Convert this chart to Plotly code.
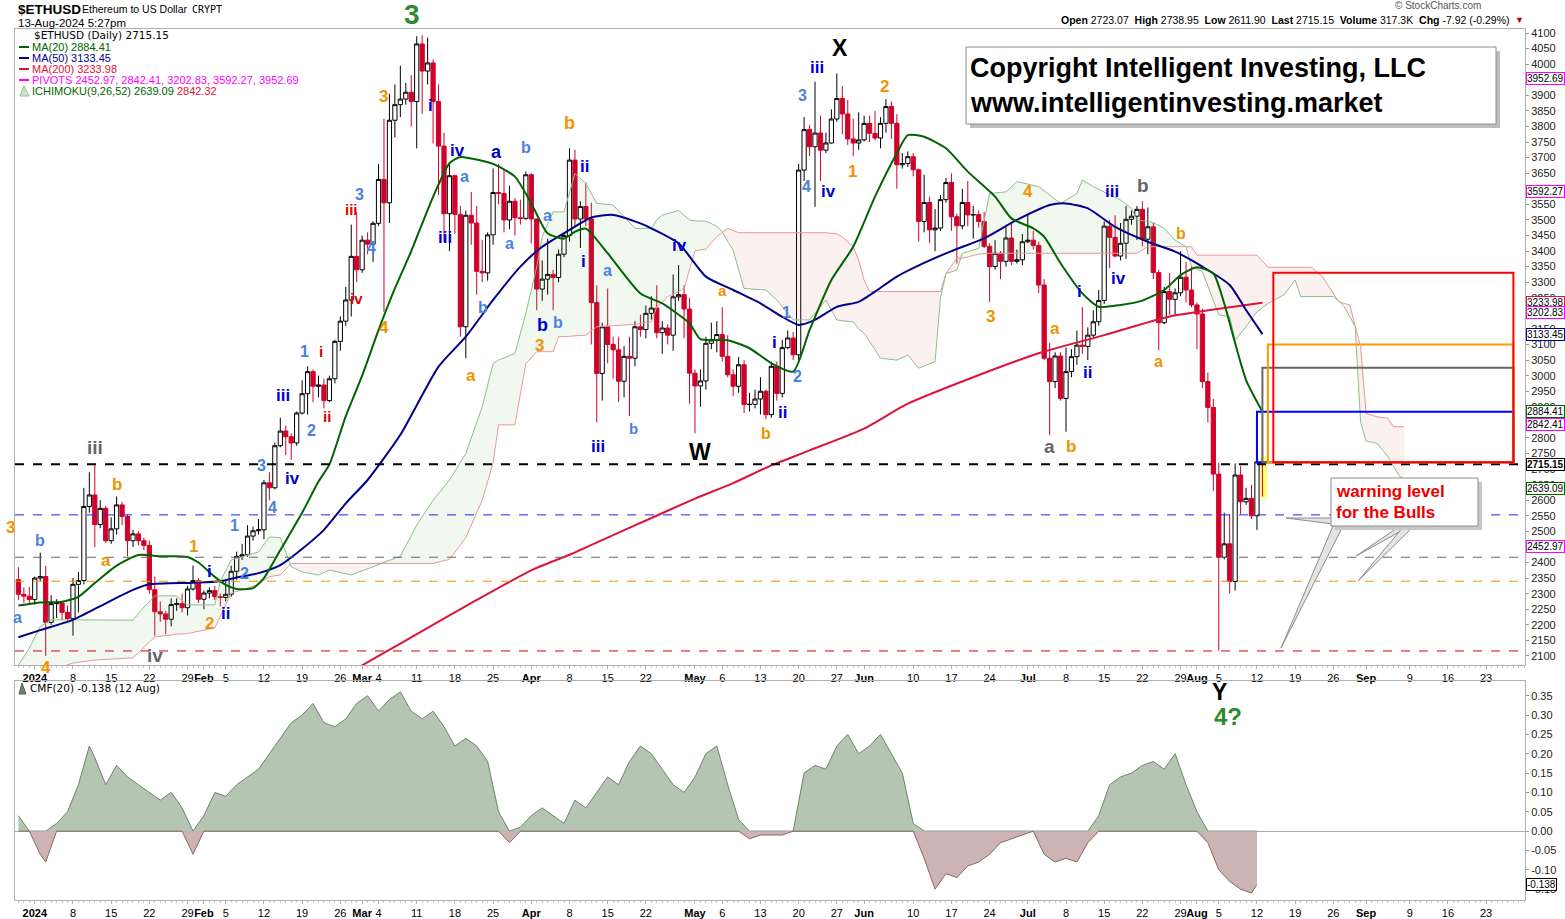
import numpy as np
import pandas as pd
import plotly.graph_objects as go

# ---------------- DATA ----------------
dates = pd.date_range("2023-12-29", "2024-08-13", freq="D")

o_dec = [2345, 2298, 2292]
h_dec = [2385, 2320, 2322]
l_dec = [2280, 2270, 2268]
c_dec = [2298, 2292, 2281]

o_jan = [2281, 2350, 2355, 2208, 2268, 2270, 2240, 2220, 2330, 2342, 2580, 2617, 2522, 2574, 2470, 2508, 2585, 2548, 2470, 2492, 2470, 2455, 2313, 2242, 2235, 2218, 2265, 2268, 2255, 2315, 2342]
h_jan = [2355, 2432, 2390, 2295, 2282, 2276, 2262, 2350, 2370, 2640, 2690, 2715, 2600, 2582, 2545, 2612, 2595, 2555, 2505, 2500, 2480, 2470, 2355, 2275, 2245, 2285, 2285, 2300, 2325, 2390, 2350]
l_jan = [2265, 2340, 2100, 2200, 2222, 2215, 2210, 2165, 2240, 2330, 2560, 2450, 2510, 2462, 2460, 2490, 2520, 2420, 2450, 2455, 2440, 2300, 2165, 2210, 2170, 2195, 2245, 2240, 2230, 2310, 2270]
c_jan = [2350, 2355, 2208, 2268, 2270, 2240, 2220, 2330, 2342, 2580, 2617, 2522, 2574, 2470, 2508, 2585, 2548, 2470, 2492, 2470, 2455, 2313, 2242, 2235, 2218, 2265, 2268, 2255, 2315, 2342, 2282]

o_feb = [2282, 2302, 2310, 2290, 2288, 2298, 2372, 2420, 2425, 2485, 2502, 2505, 2656, 2640, 2775, 2822, 2804, 2784, 2880, 2942, 3013, 2966, 2970, 2920, 2990, 3110, 3175, 3243, 3383]
h_feb = [2310, 2320, 2325, 2300, 2340, 2390, 2435, 2460, 2520, 2515, 2540, 2665, 2690, 2785, 2865, 2840, 2815, 2885, 2985, 3030, 3020, 3000, 2990, 3000, 3115, 3190, 3285, 3485, 3525]
l_feb = [2250, 2285, 2280, 2260, 2275, 2290, 2345, 2408, 2418, 2470, 2490, 2475, 2600, 2635, 2770, 2745, 2730, 2775, 2875, 2875, 2915, 2930, 2895, 2915, 2975, 3080, 3160, 3190, 3300]
c_feb = [2302, 2310, 2290, 2288, 2298, 2372, 2420, 2425, 2485, 2502, 2505, 2656, 2640, 2775, 2822, 2804, 2784, 2880, 2942, 3013, 2966, 2970, 2920, 2990, 3110, 3175, 3243, 3383, 3340]

o_mar = [3340, 3435, 3422, 3489, 3630, 3555, 3820, 3870, 3888, 3910, 3880, 4065, 3978, 4004, 3880, 3737, 3520, 3642, 3518, 3157, 3515, 3490, 3335, 3330, 3452, 3588, 3585, 3500, 3560, 3507, 3505]
h_mar = [3450, 3460, 3495, 3680, 3825, 3905, 3935, 3995, 3940, 3965, 4090, 4093, 4085, 4015, 3935, 3780, 3680, 3645, 3545, 3530, 3590, 3545, 3435, 3460, 3665, 3680, 3660, 3610, 3570, 3565, 3655]
l_mar = [3330, 3390, 3365, 3480, 3205, 3490, 3765, 3830, 3870, 3800, 3730, 3840, 3935, 3745, 3580, 3430, 3400, 3455, 3125, 3056, 3420, 3260, 3300, 3305, 3420, 3550, 3460, 3470, 3450, 3485, 3500]
c_mar = [3435, 3422, 3489, 3630, 3555, 3820, 3870, 3888, 3910, 3880, 4065, 3978, 4004, 3880, 3737, 3520, 3642, 3518, 3157, 3515, 3490, 3335, 3330, 3452, 3588, 3585, 3500, 3560, 3507, 3505, 3645]

o_apr = [3645, 3503, 3278, 3310, 3325, 3315, 3390, 3450, 3692, 3503, 3543, 3503, 3235, 3007, 3157, 3100, 3083, 2982, 3062, 3056, 3157, 3148, 3200, 3217, 3138, 3153, 3130, 3253, 3260, 3214]
h_apr = [3650, 3505, 3370, 3440, 3340, 3405, 3460, 3730, 3725, 3560, 3620, 3555, 3290, 3170, 3280, 3125, 3125, 3095, 3125, 3175, 3195, 3225, 3255, 3290, 3175, 3165, 3325, 3355, 3290, 3250]
l_apr = [3425, 3210, 3240, 3260, 3210, 3300, 3380, 3430, 3480, 3410, 3480, 3100, 2850, 2920, 3040, 2990, 2915, 2930, 2870, 3030, 3125, 3120, 3180, 3120, 3070, 3100, 3080, 3240, 3120, 2910]
c_apr = [3503, 3278, 3310, 3325, 3315, 3390, 3450, 3692, 3503, 3543, 3503, 3235, 3007, 3157, 3100, 3083, 2982, 3062, 3056, 3157, 3148, 3200, 3217, 3138, 3153, 3130, 3253, 3260, 3214, 3008]

o_may = [3008, 2967, 2983, 3104, 3115, 3132, 3062, 3003, 2966, 3035, 2907, 2908, 2925, 2950, 2875, 3030, 2943, 3090, 3121, 3067, 3660, 3790, 3735, 3779, 3724, 3747, 3824, 3890, 3840, 3760, 3747]
h_may = [3020, 3020, 3125, 3170, 3175, 3220, 3130, 3020, 3060, 3050, 2945, 2955, 2995, 2955, 3045, 3045, 3115, 3145, 3140, 3680, 3830, 3805, 3944, 3835, 3780, 3855, 3970, 3930, 3885, 3825, 3845]
l_may = [2815, 2900, 2955, 3085, 3075, 3045, 2995, 2935, 2945, 2880, 2885, 2895, 2875, 2860, 2865, 2920, 2930, 3085, 3050, 3050, 3625, 3705, 3542, 3625, 3715, 3745, 3815, 3775, 3740, 3705, 3725]
c_may = [2967, 2983, 3104, 3115, 3132, 3062, 3003, 2966, 3035, 2907, 2908, 2925, 2950, 2875, 3030, 2943, 3090, 3121, 3067, 3660, 3790, 3735, 3779, 3724, 3747, 3824, 3890, 3840, 3760, 3747, 3757]

o_jun = [3757, 3810, 3778, 3763, 3810, 3864, 3810, 3677, 3681, 3703, 3661, 3495, 3556, 3468, 3474, 3565, 3620, 3510, 3481, 3556, 3516, 3517, 3495, 3415, 3350, 3393, 3367, 3442, 3367, 3372]
h_jun = [3835, 3835, 3850, 3830, 3888, 3880, 3840, 3715, 3720, 3715, 3665, 3645, 3575, 3535, 3580, 3635, 3650, 3520, 3600, 3625, 3545, 3530, 3525, 3425, 3435, 3400, 3480, 3490, 3405, 3455]
l_jun = [3752, 3750, 3755, 3730, 3780, 3760, 3600, 3665, 3670, 3640, 3430, 3460, 3425, 3400, 3465, 3555, 3465, 3360, 3470, 3480, 3440, 3475, 3410, 3237, 3340, 3310, 3350, 3355, 3360, 3355]
c_jun = [3810, 3778, 3763, 3810, 3864, 3810, 3677, 3681, 3703, 3661, 3495, 3556, 3468, 3474, 3565, 3620, 3510, 3481, 3556, 3516, 3517, 3495, 3415, 3350, 3393, 3367, 3442, 3367, 3372, 3430]

o_jul = [3430, 3435, 3418, 3291, 3056, 2981, 3063, 2927, 3013, 3061, 3098, 3094, 3130, 3173, 3241, 3480, 3444, 3384, 3425, 3502, 3512, 3534, 3438, 3478, 3331, 3170, 3270, 3245, 3266, 3316, 3275]
h_jul = [3520, 3465, 3430, 3310, 3105, 3075, 3075, 3090, 3085, 3145, 3220, 3155, 3210, 3275, 3495, 3500, 3515, 3490, 3545, 3530, 3545, 3560, 3540, 3490, 3340, 3285, 3330, 3280, 3400, 3365, 3350]
l_jul = [3425, 3405, 3265, 3050, 2809, 2960, 2920, 2820, 2995, 3035, 3070, 3050, 3120, 3160, 3230, 3345, 3380, 3370, 3375, 3485, 3435, 3415, 3390, 3310, 3082, 3165, 3195, 3195, 3255, 3235, 3220]
c_jul = [3435, 3418, 3291, 3056, 2981, 3063, 2927, 3013, 3061, 3098, 3094, 3130, 3173, 3241, 3480, 3444, 3384, 3425, 3502, 3512, 3534, 3438, 3478, 3331, 3170, 3270, 3245, 3266, 3316, 3275, 3227]

o_aug = [3227, 3198, 2981, 2898, 2684, 2417, 2460, 2339, 2681, 2595, 2606, 2550, 2723.07]
h_aug = [3235, 3215, 3010, 2925, 2720, 2560, 2555, 2718, 2710, 2640, 2650, 2740, 2738.95]
l_aug = [3085, 2960, 2850, 2630, 2117, 2410, 2301, 2310, 2555, 2585, 2540, 2505, 2611.90]
c_aug = [3198, 2981, 2898, 2684, 2417, 2460, 2339, 2681, 2595, 2606, 2550, 2723.07, 2715.15]

opens = o_dec + o_jan + o_feb + o_mar + o_apr + o_may + o_jun + o_jul + o_aug
highs = h_dec + h_jan + h_feb + h_mar + h_apr + h_may + h_jun + h_jul + h_aug
lows = l_dec + l_jan + l_feb + l_mar + l_apr + l_may + l_jun + l_jul + l_aug
closes = c_dec + c_jan + c_feb + c_mar + c_apr + c_may + c_jun + c_jul + c_aug

# moving averages
ma20_dates = ["2023-12-29", "2024-01-02", "2024-01-06", "2024-01-09", "2024-01-12", "2024-01-16", "2024-01-20", "2024-01-24",
              "2024-01-29", "2024-01-31", "2024-02-03", "2024-02-05", "2024-02-07", "2024-02-10", "2024-02-12", "2024-02-15",
              "2024-02-19", "2024-02-22", "2024-02-24", "2024-02-27", "2024-03-01", "2024-03-04", "2024-03-07", "2024-03-10",
              "2024-03-14", "2024-03-17", "2024-03-19", "2024-03-21", "2024-03-25", "2024-03-29", "2024-04-01", "2024-04-04",
              "2024-04-07", "2024-04-09", "2024-04-11", "2024-04-15", "2024-04-21", "2024-04-25", "2024-04-30", "2024-05-02",
              "2024-05-07", "2024-05-11", "2024-05-15", "2024-05-19", "2024-05-22", "2024-05-26", "2024-05-30", "2024-06-03",
              "2024-06-07", "2024-06-09", "2024-06-12", "2024-06-16", "2024-06-20", "2024-06-25", "2024-06-28", "2024-07-02",
              "2024-07-04", "2024-07-07", "2024-07-11", "2024-07-14", "2024-07-18", "2024-07-22", "2024-07-26", "2024-07-29",
              "2024-08-01", "2024-08-04", "2024-08-06", "2024-08-08", "2024-08-10", "2024-08-13"]
ma20_vals = [2262, 2272, 2274, 2290, 2334, 2390, 2424, 2420,
             2418, 2400, 2354, 2328, 2315, 2318, 2350, 2440,
             2560, 2660, 2715, 2870, 3000, 3146, 3280, 3400,
             3574, 3682, 3702, 3697, 3680, 3639, 3553, 3457,
             3440, 3462, 3472, 3393, 3264, 3232, 3168, 3117,
             3114, 3088, 3040, 3013, 3146, 3307, 3414, 3575,
             3714, 3772, 3767, 3730, 3655, 3575, 3505, 3473,
             3446, 3361, 3264, 3221, 3227, 3241, 3275, 3323,
             3348, 3328, 3232, 3104, 2986, 2884.41]

ma50_dates = ["2023-12-29", "2024-01-02", "2024-01-08", "2024-01-14", "2024-01-19", "2024-01-22", "2024-01-30", "2024-02-04",
              "2024-02-07", "2024-02-11", "2024-02-15", "2024-02-18", "2024-02-23", "2024-02-27", "2024-03-02", "2024-03-08",
              "2024-03-15", "2024-03-20", "2024-03-25", "2024-03-30", "2024-04-03", "2024-04-08", "2024-04-12", "2024-04-16",
              "2024-04-21", "2024-04-23", "2024-04-28", "2024-05-03", "2024-05-08", "2024-05-13", "2024-05-17", "2024-05-20",
              "2024-05-23", "2024-05-27", "2024-05-31", "2024-06-03", "2024-06-07", "2024-06-12", "2024-06-17", "2024-06-23",
              "2024-06-29", "2024-07-05", "2024-07-08", "2024-07-12", "2024-07-17", "2024-07-23", "2024-07-28", "2024-08-02",
              "2024-08-07", "2024-08-10", "2024-08-13"]
ma50_vals = [2160, 2183, 2216, 2269, 2312, 2330, 2335, 2340,
             2352, 2366, 2392, 2430, 2505, 2590, 2665, 2810,
             3029, 3125, 3243, 3350, 3414, 3468, 3508, 3516,
             3489, 3473, 3425, 3318, 3275, 3232, 3189, 3163,
             3179, 3221, 3237, 3270, 3318, 3362, 3400, 3441,
             3500, 3548, 3553, 3537, 3478, 3430, 3398, 3350,
             3291, 3211, 3133.45]

ma200_dates = ["2024-02-27", "2024-03-01", "2024-03-08", "2024-03-15", "2024-03-22", "2024-04-01", "2024-04-08", "2024-04-15",
               "2024-04-22", "2024-05-01", "2024-05-08", "2024-05-15", "2024-05-22", "2024-06-01", "2024-06-09", "2024-06-21",
               "2024-07-03", "2024-07-15", "2024-07-27", "2024-08-08", "2024-08-13"]
ma200_vals = [2040, 2070, 2140, 2210, 2280, 2375, 2425, 2480,
              2535, 2605, 2655, 2712, 2760, 2830, 2910, 2995,
              3072, 3130, 3190, 3222, 3233.98]

# Ichimoku cloud (span A / span B, projected 26 days ahead)
cloud_dates = ["2023-12-29", "2023-12-31", "2024-01-02", "2024-01-04", "2024-01-08", "2024-01-12", "2024-01-19", "2024-01-21",
               "2024-01-23", "2024-01-27", "2024-01-29", "2024-02-03", "2024-02-04", "2024-02-06", "2024-02-08", "2024-02-11",
               "2024-02-13", "2024-02-15", "2024-02-17", "2024-02-19", "2024-02-22", "2024-02-24", "2024-02-28", "2024-03-03",
               "2024-03-08", "2024-03-11", "2024-03-14", "2024-03-17", "2024-03-20", "2024-03-23", "2024-03-25", "2024-03-26",
               "2024-03-29", "2024-03-31", "2024-04-02", "2024-04-03", "2024-04-05", "2024-04-06", "2024-04-07", "2024-04-09",
               "2024-04-11", "2024-04-13", "2024-04-16", "2024-04-20", "2024-04-23", "2024-04-24", "2024-04-25", "2024-04-26",
               "2024-04-28", "2024-04-29", "2024-04-30", "2024-05-01", "2024-05-03", "2024-05-05", "2024-05-06", "2024-05-07",
               "2024-05-08", "2024-05-09", "2024-05-10", "2024-05-14", "2024-05-16", "2024-05-19", "2024-05-22", "2024-05-25",
               "2024-05-27", "2024-05-28", "2024-05-30", "2024-05-31", "2024-06-01", "2024-06-02", "2024-06-04", "2024-06-07",
               "2024-06-09", "2024-06-11", "2024-06-14", "2024-06-15", "2024-06-16", "2024-06-18", "2024-06-19", "2024-06-22",
               "2024-06-24", "2024-06-27", "2024-06-29", "2024-07-03", "2024-07-05", "2024-07-07", "2024-07-10", "2024-07-11",
               "2024-07-13", "2024-07-15", "2024-07-18", "2024-07-20", "2024-07-21", "2024-07-23", "2024-07-24", "2024-07-26",
               "2024-07-28", "2024-07-30", "2024-07-31", "2024-08-01", "2024-08-02", "2024-08-05", "2024-08-07", "2024-08-08",
               "2024-08-10", "2024-08-12", "2024-08-14", "2024-08-17", "2024-08-19", "2024-08-20", "2024-08-22", "2024-08-24",
               "2024-08-26", "2024-08-27", "2024-08-28", "2024-08-29", "2024-08-30", "2024-08-31", "2024-09-01", "2024-09-03",
               "2024-09-05", "2024-09-06", "2024-09-07", "2024-09-08"]
span_a = [2071, 2125, 2195, 2216, 2216, 2216, 2215, 2257,
          2293, 2293, 2264, 2264, 2340, 2408, 2418, 2434,
          2482, 2480, 2386, 2370, 2360, 2376, 2360, 2386,
          2420, 2520, 2600, 2665, 2750, 2900, 3039, 3050,
          3071, 3200, 3350, 3446, 3526, 3526, 3526, 3649,
          3617, 3553, 3548, 3473, 3473, 3500, 3516, 3520,
          3530, 3515, 3500, 3497, 3496, 3480, 3462, 3430,
          3403, 3340, 3280, 3275, 3243, 3179, 3179, 3243,
          3179, 3176, 3173, 3150, 3136, 3110, 3056, 3050,
          3066, 3024, 3045, 3250, 3328, 3339, 3393, 3409,
          3585, 3590, 3623, 3607, 3580, 3553, 3585, 3628,
          3607, 3590, 3564, 3537, 3500, 3495, 3491, 3473,
          3435, 3414, 3350, 3342, 3334, 3195, 3189, 3114,
          3157, 3205, 3232, 3260, 3307, 3254, 3254, 3254,
          3254, 3240, 3221, 3190, 3157, 2850, 2790, 2783,
          2740, 2710, 2680, 2665]
span_b = [2040, 2045, 2050, 2055, 2077, 2087, 2094, 2129,
          2161, 2170, 2172, 2190, 2226, 2302, 2312, 2330,
          2355, 2360, 2397, 2397, 2397, 2397, 2397, 2397,
          2397, 2397, 2397, 2410, 2480, 2600, 2720, 2842,
          2842, 3039, 3077, 3077, 3077, 3125, 3125, 3128,
          3130, 3157, 3160, 3165, 3173, 3221, 3235, 3254,
          3270, 3280, 3340, 3401, 3406, 3446, 3460, 3473,
          3466, 3459, 3459, 3459, 3459, 3459, 3459, 3459,
          3455, 3446, 3414, 3371, 3307, 3270, 3270, 3270,
          3270, 3270, 3270, 3270, 3328, 3377, 3377, 3390,
          3393, 3393, 3393, 3393, 3393, 3393, 3393, 3393,
          3393, 3393, 3393, 3393, 3393, 3414, 3414, 3414,
          3414, 3414, 3414, 3387, 3387, 3387, 3387, 3387,
          3387, 3387, 3348, 3348, 3348, 3348, 3348, 3318,
          3264, 3237, 3232, 3227, 3160, 3093, 2879, 2868,
          2863, 2836, 2836, 2836]

# Chaikin Money Flow (20)
cmf_dates = ["2023-12-29", "2023-12-31", "2024-01-02", "2024-01-03", "2024-01-05", "2024-01-07", "2024-01-09", "2024-01-11",
             "2024-01-12", "2024-01-14", "2024-01-16", "2024-01-18", "2024-01-20", "2024-01-22", "2024-01-24", "2024-01-26",
             "2024-01-28", "2024-01-30", "2024-02-01", "2024-02-03", "2024-02-05", "2024-02-07", "2024-02-09", "2024-02-11",
             "2024-02-13", "2024-02-15", "2024-02-17", "2024-02-19", "2024-02-21", "2024-02-23", "2024-02-25", "2024-02-27",
             "2024-02-29", "2024-03-02", "2024-03-04", "2024-03-06", "2024-03-08", "2024-03-10", "2024-03-12", "2024-03-14",
             "2024-03-16", "2024-03-18", "2024-03-20", "2024-03-22", "2024-03-24", "2024-03-26", "2024-03-28", "2024-03-30",
             "2024-04-01", "2024-04-03", "2024-04-05", "2024-04-07", "2024-04-09", "2024-04-11", "2024-04-13", "2024-04-15",
             "2024-04-17", "2024-04-19", "2024-04-21", "2024-04-23", "2024-04-25", "2024-04-27", "2024-04-29", "2024-05-01",
             "2024-05-03", "2024-05-05", "2024-05-07", "2024-05-09", "2024-05-11", "2024-05-13", "2024-05-15", "2024-05-17",
             "2024-05-19", "2024-05-21", "2024-05-23", "2024-05-25", "2024-05-27", "2024-05-29", "2024-05-31", "2024-06-02",
             "2024-06-04", "2024-06-06", "2024-06-08", "2024-06-10", "2024-06-12", "2024-06-14", "2024-06-16", "2024-06-18",
             "2024-06-20", "2024-06-22", "2024-06-24", "2024-06-26", "2024-06-28", "2024-06-30", "2024-07-02", "2024-07-04",
             "2024-07-06", "2024-07-08", "2024-07-10", "2024-07-12", "2024-07-14", "2024-07-16", "2024-07-18", "2024-07-20",
             "2024-07-22", "2024-07-24", "2024-07-26", "2024-07-28", "2024-07-30", "2024-08-01", "2024-08-03", "2024-08-05",
             "2024-08-07", "2024-08-09", "2024-08-11", "2024-08-12"]
cmf_vals = [0.04, 0.00, -0.06, -0.08, 0.02, 0.05, 0.12, 0.22,
            0.19, 0.12, 0.17, 0.14, 0.12, 0.10, 0.08, 0.10,
            0.06, -0.06, 0.04, 0.10, 0.09, 0.12, 0.14, 0.16,
            0.20, 0.24, 0.28, 0.30, 0.33, 0.28, 0.27, 0.29,
            0.33, 0.35, 0.31, 0.34, 0.36, 0.31, 0.29, 0.31,
            0.27, 0.22, 0.24, 0.22, 0.18, 0.05, -0.03, 0.01,
            0.04, 0.06, 0.04, 0.02, 0.08, 0.06, 0.10, 0.14,
            0.12, 0.18, 0.22, 0.20, 0.16, 0.12, 0.10, 0.14,
            0.20, 0.22, 0.12, 0.03, -0.02, -0.01, -0.01, -0.01,
            0.00, 0.15, 0.17, 0.16, 0.22, 0.25, 0.20, 0.22,
            0.25, 0.20, 0.15, 0.02, -0.07, -0.15, -0.11, -0.12,
            -0.09, -0.08, -0.06, -0.03, -0.02, -0.01, 0.00, -0.06,
            -0.08, -0.07, -0.08, -0.03, 0.04, 0.12, 0.14, 0.15,
            0.17, 0.18, 0.16, 0.20, 0.12, 0.05, -0.03, -0.10,
            -0.13, -0.15, -0.16, -0.138]

# horizontal levels and target boxes
level_black = 2715.15
levels_dashed = [(2553, "#1f1fff"), (2417, "#666666"), (2340, "#f39200"), (2116, "#e00000")]
box_left = ["2024-08-12", "2024-08-13", "2024-08-14", "2024-08-15"]
box_top = [2884.41, 3025, 3100, 3330]
box_colors = ["#0000ff", "#666666", "#ff9900", "#ff0000"]
box_right = "2024-09-28"
box_bottom = 2722

axis_labels = [(3952.69, "#ff00ff"), (3592.27, "#ff00ff"), (3233.98, "#dc143c"), (3202.83, "#ff00ff"),
               (3133.45, "#000080"), (2884.41, "#006400"), (2842.41, "#ff00ff"), (2715.15, "#000000"),
               (2639.09, "#006400"), (2452.97, "#ff00ff")]

OR, LB, BL, RD, GY, BK, GR = "#f39200", "#4a80e0", "#0000d0", "#e00000", "#666666", "#000000", "#2e8b2e"
wave_labels = [
    ("b", "2024-01-02", 2472, LB, 16), ("a", "2023-12-28 18:00", 2225, LB, 16),
    ("iii", "2024-01-12", 2768, GY, 19), ("b", "2024-01-16", 2649, OR, 17),
    ("a", "2024-01-14", 2408, OR, 17), ("iv", "2024-01-23", 2103, GY, 19), ("1", "2024-01-30", 2450, OR, 17),
    ("i", "2024-02-02", 2370, BL, 17), ("2", "2024-02-02", 2203, OR, 17), ("ii", "2024-02-05", 2235, BL, 17),
    ("2", "2024-02-08 12:00", 2366, LB, 16), ("1", "2024-02-06 16:00", 2520, LB, 16), ("3", "2024-02-11 14:00", 2713, LB, 16),
    ("4", "2024-02-13 12:00", 2578, LB, 16), ("iv", "2024-02-17 07:00", 2671, BL, 17), ("iii", "2024-02-15 12:00", 2935, BL, 17),
    ("2", "2024-02-20 19:00", 2825, LB, 16), ("1", "2024-02-19 12:00", 3076, LB, 16), ("i", "2024-02-22 12:00", 3076, RD, 15),
    ("ii", "2024-02-23 14:00", 2870, RD, 15), ("iii", "2024-02-28 02:00", 3535, RD, 15), ("iv", "2024-02-28 22:00", 3249, RD, 15),
    ("3", "2024-02-29 14:00", 3583, LB, 16), ("4", "2024-03-02 19:00", 3413, LB, 16), ("4", "2024-03-05", 3156, OR, 17),
    ("3", "2024-03-05", 3895, OR, 17), ("ii", "2024-03-14", 4126, BL, 17),
    ("i", "2024-03-13 14:00", 3869, BL, 17), ("iv", "2024-03-18 10:00", 3724, BL, 17), ("iii", "2024-03-16 05:00", 3445, BL, 17),
    ("a", "2024-03-19 19:00", 3638, LB, 16), ("a", "2024-03-21", 2999, OR, 17), ("b", "2024-03-23 02:00", 3220, LB, 16),
    ("a", "2024-03-25 17:00", 3718, BL, 18), ("b", "2024-03-31", 3731, LB, 16), ("a", "2024-03-27 22:00", 3423, LB, 16),
    ("a", "2024-04-03 22:00", 3513, LB, 16), ("b", "2024-04-08 02:00", 3811, OR, 18), ("ii", "2024-04-10 19:00", 3673, BL, 17),
    ("i", "2024-04-10 12:00", 3368, BL, 17), ("a", "2024-04-14 22:00", 3339, LB, 16), ("3", "2024-04-02 14:00", 3098, OR, 17),
    ("b", "2024-04-03", 3163, BL, 18), ("b", "2024-04-05 22:00", 3172, LB, 16), ("iii", "2024-04-13 05:00", 2774, BL, 17),
    ("b", "2024-04-19 19:00", 2829, LB, 15), ("iv", "2024-04-28 05:00", 3419, BL, 17), ("a", "2024-05-06", 3275, OR, 15),
    ("W", "2024-05-02", 2755, BK, 23), ("b", "2024-05-14", 2813, OR, 16), ("ii", "2024-05-17", 2883, BL, 17),
    ("i", "2024-05-15 12:00", 3105, BL, 17), ("1", "2024-05-17 17:00", 3204, LB, 16), ("2", "2024-05-19 17:00", 2996, LB, 16),
    ("3", "2024-05-20 19:00", 3898, LB, 16), ("iii", "2024-05-23 10:00", 3991, BL, 17), ("X", "2024-05-27 14:00", 4052, BK, 23),
    ("4", "2024-05-21 10:00", 3606, LB, 16), ("iv", "2024-05-25 10:00", 3590, BL, 17), ("2", "2024-06-04 19:00", 3927, OR, 17),
    ("1", "2024-05-29 19:00", 3657, OR, 17), ("4", "2024-07-01", 3590, OR, 17), ("3", "2024-06-24 02:00", 3191, OR, 17),
    ("a", "2024-07-06", 3153, OR, 17), ("iii", "2024-07-16 10:00", 3590, BL, 17), ("b", "2024-07-22 02:00", 3609, GY, 19),
    ("iv", "2024-07-17 14:00", 3313, BL, 17), ("i", "2024-07-10 10:00", 3269, BL, 17), ("ii", "2024-07-12", 3009, BL, 17),
    ("a", "2024-07-05", 2771, GY, 19), ("b", "2024-07-08 22:00", 2771, OR, 17), ("b", "2024-07-29", 3455, OR, 16),
    ("a", "2024-07-25", 3044, OR, 16),
]
# labels that sit outside the price range (date, pixel row in the figure)
edge_labels = [("3", "2024-03-10 02:00", 14, GR, 28), ("4", "2024-01-03", 667, OR, 17),
               ("Y", "2024-08-05 05:00", 692, BK, 23), ("4?", "2024-08-06 17:00", 716, GR, 24)]

# ---------------- GEOMETRY HELPERS ----------------
W, H = 1565, 919
L_M, R_M, T_M, B_M = 15, 40, 29, 19
PLOT_W = W - L_M - R_M
PLOT_H = H - T_M - B_M


def px(xp):
    return (xp - L_M) / PLOT_W


def py(yp):
    return (H - B_M - yp) / PLOT_H


MAIN_BOTTOM, CMF_TOP = 665, 681
FONT = "Liberation Sans, Arial, sans-serif"

fig = go.Figure()

# Ichimoku cloud
sa = np.array(span_a, dtype=float)
sb = np.array(span_b, dtype=float)
top = np.maximum(sa, sb)
fig.add_trace(go.Scatter(x=cloud_dates, y=sb, mode="lines", line=dict(color="#e99a9a", width=1), hoverinfo="skip"))
fig.add_trace(go.Scatter(x=cloud_dates, y=top, mode="lines", line=dict(width=0), fill="tonexty",
                         fillcolor="rgba(60,160,60,0.08)", hoverinfo="skip"))
fig.add_trace(go.Scatter(x=cloud_dates, y=sa, mode="lines", line=dict(color="#8cbf8c", width=1), hoverinfo="skip"))
fig.add_trace(go.Scatter(x=cloud_dates, y=top, mode="lines", line=dict(width=0), fill="tonexty",
                         fillcolor="rgba(200,80,80,0.08)", hoverinfo="skip"))

# Moving averages
fig.add_trace(go.Scatter(x=ma200_dates, y=ma200_vals, mode="lines", line=dict(color="#dc143c", width=2, shape="spline", smoothing=0.6)))
fig.add_trace(go.Scatter(x=ma50_dates, y=ma50_vals, mode="lines", line=dict(color="#00008b", width=2, shape="spline", smoothing=0.6)))
fig.add_trace(go.Scatter(x=ma20_dates, y=ma20_vals, mode="lines", line=dict(color="#006400", width=2, shape="spline", smoothing=0.6)))

# Candles
fig.add_trace(go.Candlestick(
    x=dates, open=opens, high=highs, low=lows, close=closes,
    increasing=dict(line=dict(color="#000000", width=1), fillcolor="#ffffff"),
    decreasing=dict(line=dict(color="#d0002a", width=1), fillcolor="#d0002a"),
    whiskerwidth=0, xaxis="x", yaxis="y"))

# CMF panel
cmf = np.array(cmf_vals, dtype=float)
fig.add_trace(go.Scatter(x=cmf_dates, y=np.maximum(cmf, 0), mode="lines", fill="tozeroy",
                         line=dict(color="#6f836d", width=1), fillcolor="#b4c5b1", xaxis="x2", yaxis="y2"))
fig.add_trace(go.Scatter(x=cmf_dates, y=np.minimum(cmf, 0), mode="lines", fill="tozeroy",
                         line=dict(color="#8a6767", width=1), fillcolor="#cdb3b3", xaxis="x2", yaxis="y2"))

# ---------------- AXES ----------------
tick_vals = ["2024-01-01", "2024-01-08", "2024-01-15", "2024-01-22", "2024-01-29", "2024-02-01", "2024-02-05", "2024-02-12",
             "2024-02-19", "2024-02-26", "2024-03-01", "2024-03-04", "2024-03-11", "2024-03-18", "2024-03-25", "2024-04-01",
             "2024-04-08", "2024-04-15", "2024-04-22", "2024-05-01", "2024-05-06", "2024-05-13", "2024-05-20", "2024-05-27",
             "2024-06-01", "2024-06-10", "2024-06-17", "2024-06-24", "2024-07-01", "2024-07-08", "2024-07-15", "2024-07-22",
             "2024-07-29", "2024-08-01", "2024-08-05", "2024-08-12", "2024-08-19", "2024-08-26", "2024-09-01", "2024-09-09",
             "2024-09-16", "2024-09-23"]
tick_text = ["<b>2024</b>", "8", "15", "22", "29", "<b>Feb</b>", "5", "12",
             "19", "26", "<b>Mar</b>", "4", "11", "18", "25", "<b>Apr</b>",
             "8", "15", "22", "<b>May</b>", "6", "13", "20", "27",
             "<b>Jun</b>", "10", "17", "24", "<b>Jul</b>", "8", "15", "22",
             "29", "<b>Aug</b>", "5", "12", "19", "26", "<b>Sep</b>", "9",
             "16", "23"]

x_range = ["2023-12-28 09:00", "2024-09-30 03:00"]
main_dom = [py(MAIN_BOTTOM), 1.0]
cmf_dom = [0.0, py(CMF_TOP)]

xcommon = dict(range=x_range, type="date", tickmode="array", tickvals=tick_vals, ticktext=tick_text, tickangle=0,
               tickfont=dict(family=FONT, size=11, color="#000"), showgrid=False, zeroline=False,
               showline=True, linecolor="#b0b0b0", mirror=True, ticks="outside", ticklen=3, tickcolor="#b0b0b0",
               minor=dict(ticks="outside", ticklen=2, dtick=86400000.0, tickcolor="#c8c8c8"),
               rangeslider=dict(visible=False), fixedrange=True, automargin=False)

fig.update_layout(
    width=W, height=H, margin=dict(l=L_M, r=R_M, t=T_M, b=B_M, autoexpand=False),
    paper_bgcolor="#ffffff", plot_bgcolor="#ffffff", showlegend=False,
    boxgap=0.12, boxgroupgap=0.12,
    xaxis=dict(anchor="y", domain=[0, 1], **xcommon),
    xaxis2=dict(anchor="y2", domain=[0, 1], matches="x", **xcommon),
    yaxis=dict(domain=main_dom, range=[2071, 4113], side="right", tickmode="linear", tick0=2100, dtick=50,
               tickfont=dict(family=FONT, size=11, color="#222"), showgrid=False, zeroline=False, automargin=False,
               showline=True, linecolor="#b0b0b0", mirror=True, ticks="outside", ticklen=3, tickcolor="#999"),
    yaxis2=dict(domain=cmf_dom, range=[-0.178, 0.388], side="right", tickmode="array", automargin=False,
                tickvals=[-0.15, -0.10, -0.05, 0.0, 0.05, 0.10, 0.15, 0.20, 0.25, 0.30, 0.35],
                ticktext=["-0.15", "-0.10", "-0.05", "0.00", "0.05", "0.10", "0.15", "0.20", "0.25", "0.30", "0.35"],
                tickfont=dict(family=FONT, size=11, color="#222"), showgrid=False,
                zeroline=True, zerolinecolor="#a8a8a8", zerolinewidth=1,
                showline=True, linecolor="#b0b0b0", mirror=True, ticks="outside", ticklen=3, tickcolor="#999"),
)

shapes = []
ann = []

# yellow highlight on last candle
shapes.append(dict(type="rect", xref="x", yref="y", x0="2024-08-12 15:00", x1="2024-08-13 21:00", y0=2606, y1=2740,
                   fillcolor="#ffff55", opacity=0.8, line=dict(width=0), layer="below"))

# horizontal levels
for lvl, col in levels_dashed:
    shapes.append(dict(type="line", xref="paper", yref="y", x0=0, x1=1, y0=lvl, y1=lvl,
                       line=dict(color=col, width=1, dash="dash")))
shapes.append(dict(type="line", xref="paper", yref="y", x0=0, x1=0.9955, y0=level_black, y1=level_black,
                   line=dict(color="#000", width=2, dash="dash")))

# target boxes
for xl, yt, col in zip(box_left, box_top, box_colors):
    shapes.append(dict(type="rect", xref="x", yref="y", x0=xl, x1=box_right, y0=box_bottom, y1=yt,
                       line=dict(color=col, width=2), fillcolor="rgba(0,0,0,0)"))

# callout tails
tails = [[(1333, 518), (1333, 524), (1286, 518)],
         [(1333, 526), (1343, 526), (1281, 648)],
         [(1400, 526), (1410, 526), (1356, 556)],
         [(1404, 526), (1414, 526), (1358, 581)]]
for t in tails:
    path = "M {} {} L {} {} L {} {} Z".format(px(t[0][0]), py(t[0][1]), px(t[1][0]), py(t[1][1]), px(t[2][0]), py(t[2][1]))
    shapes.append(dict(type="path", xref="paper", yref="paper", path=path, fillcolor="#e4e4e4",
                       line=dict(color="#8c8c8c", width=1)))
# callout box
shapes.append(dict(type="rect", xref="paper", yref="paper", x0=px(1335), x1=px(1482), y0=py(530), y1=py(482),
                   fillcolor="#c8c8c8", line=dict(width=0)))
shapes.append(dict(type="rect", xref="paper", yref="paper", x0=px(1331), x1=px(1478), y0=py(526), y1=py(478),
                   fillcolor="#ffffff", line=dict(color="#8c8c8c", width=1)))
ann.append(dict(xref="paper", yref="paper", x=px(1334), y=py(491), text="<b>warning level</b>", showarrow=False,
                xanchor="left", yanchor="middle", font=dict(family=FONT, size=17, color="#ee0000")))
ann.append(dict(xref="paper", yref="paper", x=px(1334), y=py(512), text="<b>for the Bulls</b>", showarrow=False,
                xanchor="left", yanchor="middle", font=dict(family=FONT, size=17, color="#ee0000")))

# copyright box
shapes.append(dict(type="rect", xref="paper", yref="paper", x0=px(970), x1=px(1500), y0=py(128), y1=py(51),
                   fillcolor="#bdbdbd", line=dict(width=0)))
shapes.append(dict(type="rect", xref="paper", yref="paper", x0=px(966), x1=px(1496), y0=py(124), y1=py(47),
                   fillcolor="#ffffff", line=dict(color="#8c8c8c", width=1)))
ann.append(dict(xref="paper", yref="paper", x=px(968), y=py(68), text="<b>Copyright Intelligent Investing, LLC</b>",
                showarrow=False, xanchor="left", yanchor="middle", font=dict(family=FONT, size=27, color="#000")))
ann.append(dict(xref="paper", yref="paper", x=px(968), y=py(103), text="<b>www.intelligentinvesting.market</b>",
                showarrow=False, xanchor="left", yanchor="middle", font=dict(family=FONT, size=27, color="#000")))

# wave labels
for txt, d, p, col, sz in wave_labels:
    ann.append(dict(xref="x", yref="y", x=d, y=p, text="<b>{}</b>".format(txt), showarrow=False,
                    xanchor="center", yanchor="middle", font=dict(family=FONT, size=sz, color=col)))
for txt, d, row, col, sz in edge_labels:
    ann.append(dict(xref="x", yref="paper", x=d, y=py(row), text="<b>{}</b>".format(txt), showarrow=False,
                    xanchor="center", yanchor="middle", font=dict(family=FONT, size=sz, color=col)))
ann.append(dict(xref="paper", yref="y", x=px(10), y=2514, text="<b>3</b>", showarrow=False,
                xanchor="center", yanchor="middle", font=dict(family=FONT, size=17, color=OR)))

# right axis value tags
for val, col in axis_labels:
    txt = "<b>{:.2f}</b>".format(val) if col == "#000000" else "{:.2f}".format(val)
    ann.append(dict(xref="paper", yref="y", x=1, y=val, xshift=1, text=txt, showarrow=False, xanchor="left",
                    yanchor="middle", bgcolor="#ffffff", bordercolor=col, borderwidth=1, borderpad=0,
                    font=dict(family=FONT, size=10, color="#000")))
ann.append(dict(xref="paper", yref="y2", x=1, y=-0.138, xshift=1, text="-0.138", showarrow=False, xanchor="left",
                yanchor="middle", bgcolor="#ffffff", bordercolor="#000", borderwidth=1, borderpad=0,
                font=dict(family=FONT, size=10, color="#000")))

# header texts
ann.append(dict(xref="paper", yref="paper", x=px(16), y=py(9), text="<b>$ETHUSD</b>", showarrow=False, xanchor="left",
                yanchor="middle", font=dict(family=FONT, size=13.5, color="#000")))
ann.append(dict(xref="paper", yref="paper", x=px(80), y=py(9), text="Ethereum to US Dollar", showarrow=False,
                xanchor="left", yanchor="middle", font=dict(family=FONT, size=10.5, color="#000")))
ann.append(dict(xref="paper", yref="paper", x=px(190), y=py(9), text="CRYPT", showarrow=False, xanchor="left",
                yanchor="middle", font=dict(family="DejaVu Sans Mono, monospace", size=10, color="#000")))
ann.append(dict(xref="paper", yref="paper", x=px(16), y=py(23), text="13-Aug-2024 5:27pm", showarrow=False,
                xanchor="left", yanchor="middle", font=dict(family=FONT, size=11.5, color="#000")))
ann.append(dict(xref="paper", yref="paper", x=px(1483), y=py(5), text="© StockCharts.com", showarrow=False,
                xanchor="right", yanchor="middle", font=dict(family=FONT, size=10, color="#555")))
ann.append(dict(xref="paper", yref="paper", x=px(1512), y=py(20),
                text="<b>Open</b> 2723.07  <b>High</b> 2738.95  <b>Low</b> 2611.90  <b>Last</b> 2715.15  "
                     "<b>Volume</b> 317.3K  <b>Chg</b> -7.92 (-0.29%)",
                showarrow=False, xanchor="right", yanchor="middle", font=dict(family=FONT, size=10.5, color="#000")))
ann.append(dict(xref="paper", yref="paper", x=px(1513), y=py(20), text="▼", showarrow=False, xanchor="left",
                yanchor="middle", font=dict(family=FONT, size=9, color="#c00000")))

# legend block
legend_rows = [
    (35, "$ETHUSD (Daily) 2715.15", "#000", None, "DejaVu Sans, sans-serif", 10.5),
    (47, "MA(20) 2884.41", "#006400", "#006400", FONT, 11),
    (58, "MA(50) 3133.45", "#00008b", "#00008b", FONT, 11),
    (69, "MA(200) 3233.98", "#dc143c", "#dc143c", FONT, 11),
    (80, "PIVOTS 2452.97, 2842.41, 3202.83, 3592.27, 3952.69", "#ff00ff", "#ff00ff", FONT, 11),
    (91, "ICHIMOKU(9,26,52) 2639.09 <span style='color:#dc143c'>2842.32</span>", "#006400", None, FONT, 11),
]
for yy, txt, col, glyph, fam, sz in legend_rows:
    if glyph:
        shapes.append(dict(type="line", xref="paper", yref="paper", x0=px(19), x1=px(29), y0=py(yy), y1=py(yy),
                           line=dict(color=glyph, width=2)))
    ann.append(dict(xref="paper", yref="paper", x=px(30 if yy > 35 else 32), y=py(yy), text=txt, showarrow=False,
                    xanchor="left", yanchor="middle", font=dict(family=fam, size=sz, color=col)))
shapes.append(dict(type="path", xref="paper", yref="paper",
                   path="M {} {} L {} {} L {} {} Z".format(px(20), py(96), px(24), py(86), px(29), py(96)),
                   fillcolor="#cfe3cf", line=dict(color="#8cbf8c", width=1)))
# CMF legend
shapes.append(dict(type="path", xref="paper", yref="paper",
                   path="M {} {} L {} {} L {} {} Z".format(px(19), py(694), px(22), py(683), px(26), py(694)),
                   fillcolor="#6f836d", line=dict(color="#4f634d", width=1)))
ann.append(dict(xref="paper", yref="paper", x=px(28), y=py(688), text="CMF(20) -0.138 (12 Aug)", showarrow=False,
                xanchor="left", yanchor="middle", font=dict(family="DejaVu Sans, sans-serif", size=10.5, color="#000")))

fig.update_layout(shapes=shapes, annotations=ann)
fig.write_html("out.html", config={"displayModeBar": False, "staticPlot": True},
               post_script="document.body.style.margin='0';document.body.style.padding='0';"
                           "document.body.style.overflow='hidden';")
